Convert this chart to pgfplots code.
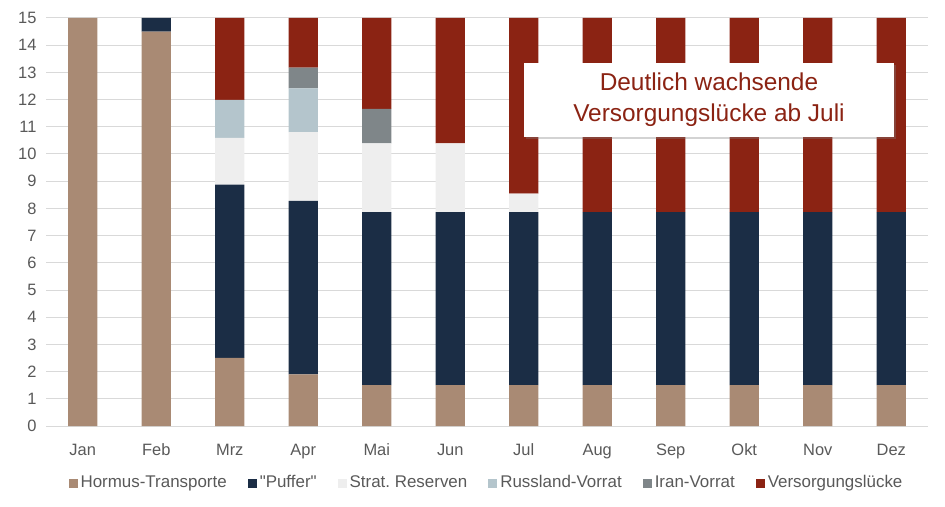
\documentclass[border=0pt]{standalone}
\usepackage{pgfplots}
\pgfplotsset{compat=1.18}
\usepackage{fontspec}
\setmainfont{Liberation Sans}[Ligatures=TeXOff]
\usetikzlibrary{shadows}
\frenchspacing

\definecolor{hormus}{HTML}{A98A74}
\definecolor{puffer}{HTML}{1B2D45}
\definecolor{strat}{HTML}{EEEEEE}
\definecolor{russland}{HTML}{B4C5CC}
\definecolor{iran}{HTML}{7F8689}
\definecolor{luecke}{HTML}{8B2313}
\definecolor{txt}{HTML}{595959}
\definecolor{gridc}{HTML}{D9D9D9}

\begin{document}
\begin{tikzpicture}
\useasboundingbox (0,0) rectangle (945bp,507bp);
\begin{axis}[
  at={(46bp,81bp)}, anchor=south west,
  scale only axis, width=882bp, height=408bp,
  ybar stacked, bar width=0.4,
  xmin=-0.5, xmax=11.5, ymin=0, ymax=15,
  xtick={0,...,11},
  xticklabels={Jan,Feb,Mrz,Apr,Mai,Jun,Jul,Aug,Sep,Okt,Nov,Dez},
  ytick={0,...,15},
  axis line style={draw=none},
  major tick length=0pt,
  ymajorgrids, grid style={gridc, line width=1pt},
  tick label style={font=\fontsize{16.5}{19}\selectfont, text=txt},
  /pgf/number format/assume math mode=true,
  yticklabel style={xshift=-6bp},
  xticklabel style={anchor=base, yshift=-29bp},
  legend style={at={(0.5,-0.14)}, anchor=center, draw=none, fill=none,
    font=\fontsize{17}{20}\selectfont, text=txt,
    nodes={text height=12bp, text depth=3.5bp, inner xsep=3bp},
    /tikz/every even column/.append style={column sep=18bp}},
  legend columns=6,
  legend image code/.code={\fill[#1] (0bp,-4.5bp) rectangle (9bp,4.5bp);},
  every axis plot/.append style={draw=none},
]
\addplot[fill=hormus] coordinates {(0,15) (1,14.5) (2,2.5) (3,1.9) (4,1.5) (5,1.5) (6,1.5) (7,1.5) (8,1.5) (9,1.5) (10,1.5) (11,1.5)};
\addplot[fill=puffer] coordinates {(0,0) (1,0.5) (2,6.37) (3,6.38) (4,6.36) (5,6.36) (6,6.36) (7,6.36) (8,6.36) (9,6.36) (10,6.36) (11,6.36)};
\addplot[fill=strat] coordinates {(0,0) (1,0) (2,1.72) (3,2.52) (4,2.53) (5,2.53) (6,0.68) (7,0) (8,0) (9,0) (10,0) (11,0)};
\addplot[fill=russland] coordinates {(0,0) (1,0) (2,1.4) (3,1.61) (4,0) (5,0) (6,0) (7,0) (8,0) (9,0) (10,0) (11,0)};
\addplot[fill=iran] coordinates {(0,0) (1,0) (2,0) (3,0.77) (4,1.27) (5,0) (6,0) (7,0) (8,0) (9,0) (10,0) (11,0)};
\addplot[fill=luecke] coordinates {(0,0) (1,0) (2,3.01) (3,1.82) (4,3.34) (5,4.61) (6,6.46) (7,7.14) (8,7.14) (9,7.14) (10,7.14) (11,7.14)};
\legend{Hormus-Transporte,"Puffer",Strat.\ Reserven,Russland-Vorrat,Iran-Vorrat,Versorgungslücke}
\coordinate (ann) at (axis cs:8.52,12);
\end{axis}
% callout box on top of the bars
\node[fill=white, draw=none, drop shadow={shadow xshift=2.5bp, shadow yshift=-2.5bp, opacity=0.35},
  minimum width=370bp, minimum height=74bp, align=center, text=luecke,
  font=\fontsize{24.5}{31}\selectfont]
  at (ann) {Deutlich wachsende\\Versorgungslücke ab Juli};
\end{tikzpicture}
\end{document}
